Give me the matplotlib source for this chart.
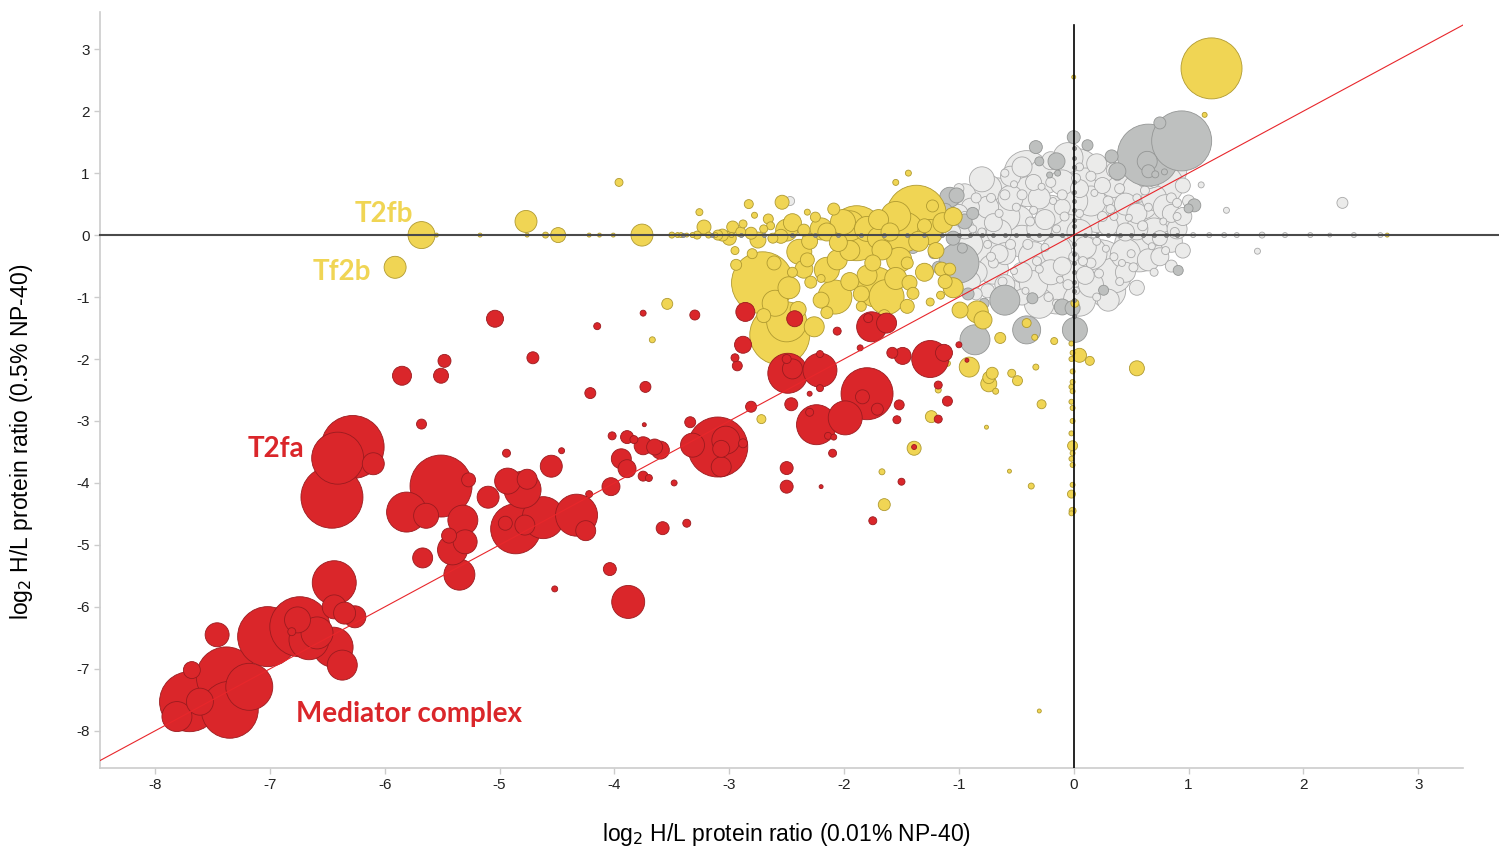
import matplotlib.pyplot as plt
import numpy as np

plt.rcParams['font.family'] = ['Liberation Sans', 'DejaVu Sans']
plt.rcParams['axes.unicode_minus'] = False

# bubbles: x, y (log2 H/L ratios) and bubble diameter (px at 100 dpi)
red_x = [-7.70, -7.35, -7.38, -7.18, -7.81, -7.61, -7.68, -7.46,
         -7.02, -6.74, -6.59, -6.76, -6.45, -6.37, -6.44, -6.44, -6.26, -6.81, -6.66, -6.35,
         -6.28, -6.41, -6.46, -6.10,
         -5.68, -5.51, -5.81, -5.64, -5.27, -5.32, -5.30, -5.41, -5.44, -5.67, -5.35, -5.10,
         -4.93, -4.76, -4.80, -4.86, -4.62, -4.33, -4.25, -4.95, -4.78, -4.55, -4.94, -4.46,
         -4.52, -4.04, -3.88,
         -5.04, -5.48, -5.85, -5.51, -4.71, -4.15, -3.75, -3.30, -4.21, -3.73,
         -3.74, -4.02, -3.89, -3.83, -3.75, -3.65, -3.60, -3.94, -3.89, -3.75, -3.70, -4.03,
         -4.22, -3.48, -3.34, -3.10, -3.32, -3.03, -3.07, -3.07, -2.88, -2.81, -3.58, -3.37,
         -2.88, -2.95, -2.93, -2.86, -2.43, -2.49, -2.21, -2.45, -2.50, -2.21, -2.21, -1.80,
         -1.84, -1.71, -2.24, -1.99, -2.30, -2.14, -2.09, -2.46, -2.30, -2.10, -2.50, -2.50,
         -2.20, -1.52, -1.54, -1.50, -1.75, -1.10, -1.18, -1.18, -1.39, -1.25, -1.13, -1.49,
         -1.58, -1.76, -1.63, -1.79, -2.06, -1.86, -1.00, -0.93]
red_y = [-7.53, -7.66, -7.13, -7.29, -7.77, -7.53, -7.02, -6.45,
         -6.48, -6.32, -6.42, -6.21, -6.65, -6.94, -5.61, -6.00, -6.16, -6.40, -6.53, -6.10,
         -3.42, -3.60, -4.23, -3.69,
         -3.05, -4.05, -4.47, -4.53, -3.95, -4.60, -4.95, -5.08, -4.85, -5.21, -5.48, -4.23,
         -3.97, -3.94, -4.11, -4.74, -4.56, -4.52, -4.77, -4.65, -4.68, -3.73, -3.52, -3.48,
         -5.71, -5.39, -5.92,
         -1.35, -2.03, -2.27, -2.27, -1.98, -1.47, -1.26, -1.29, -2.55, -2.45,
         -3.06, -3.24, -3.26, -3.30, -3.40, -3.42, -3.47, -3.61, -3.77, -3.89, -3.92, -4.06,
         -4.18, -4.00, -3.02, -3.42, -3.39, -3.31, -3.45, -3.74, -3.36, -2.77, -4.73, -4.65,
         -1.77, -1.98, -2.11, -1.24, -1.35, -2.23, -2.18, -2.16, -2.00, -1.92, -2.47, -2.56,
         -2.61, -2.81, -3.06, -2.95, -2.86, -3.24, -3.26, -2.73, -2.56, -3.52, -3.76, -4.06,
         -4.06, -2.74, -2.98, -3.98, -4.61, -2.68, -2.97, -2.42, -3.42, -2.00, -1.90, -1.95,
         -1.90, -1.48, -1.42, -1.34, -1.55, -1.82, -1.77, -2.02]
red_size = [60, 57, 60, 47, 30, 27, 17, 24,
            60, 60, 32, 26, 40, 30, 44, 24, 22, 8, 40, 22,
            63, 52, 62, 22,
            10, 62, 40, 25, 14, 30, 24, 30, 15, 20, 31, 22,
            26, 20, 37, 50, 42, 42, 20, 14, 20, 22, 8, 6,
            6, 13, 33,
            17, 13, 19, 15, 12, 7, 6, 10, 11, 11,
            4, 8, 13, 8, 18, 16, 18, 20, 18, 10, 7, 18,
            7, 6, 11, 60, 24, 28, 17, 20, 9, 11, 13, 8,
            17, 8, 10, 19, 16, 40, 34, 20, 9, 7, 7, 52,
            14, 12, 40, 34, 8, 7, 6, 13, 5, 8, 13, 13,
            4, 10, 8, 7, 8, 10, 8, 8, 5, 37, 17, 17,
            11, 30, 20, 9, 8, 6, 6, 4]

yel_x = [-5.68, -5.91, -4.77, -4.49, -4.60, -4.76, -5.17, -5.55, -3.96, -3.76, -4.22, -4.13,
         -4.01, -3.50, -3.45, -3.37, -3.22, -3.26, -3.28, -3.06, -3.54, -3.67, -2.72,
         -2.83, -2.54, -2.78, -2.64, -2.97, -2.81, -2.50, -2.39, -2.62, -2.70, -2.35, -1.89,
         -2.01, -2.09, -2.32, -2.25, -2.15, -2.06, -2.32, -2.29, -2.08, -2.71, -2.61, -2.56,
         -2.50, -2.26, -2.94, -1.37, -1.48, -1.72, -1.63, -1.80, -1.52, -1.43, -1.67, -1.40,
         -1.25, -1.16, -0.99, -0.79, -0.84, -0.91, -0.74, -1.10, -1.18, -1.55, -1.44, -1.55,
         -1.25, -1.70, -2.15, -1.95, -1.23, -1.14, -1.05, -1.15, -1.45, -2.45, -2.80, -2.20,
         -1.85,
         -0.74, -0.71, -0.54, -0.49, -0.68, -0.28, -0.76, -0.56, -0.37, -0.30, -0.33, -0.64,
         -0.17, 0.05, 0.14, -0.41, -0.34, 0.01, -1.67, -1.65, -1.39, -1.24, 0.55, 1.20,
         1.14, 0.00, 2.73, -1.08,
         -0.01, -0.02, -0.01, -0.02, -0.01, -0.01, -0.02, -0.01, -0.01, -0.02, -0.01, -0.01,
         -0.02, -0.01, -0.02, -0.01, -0.02, -0.01, -0.02,
         -3.00, -2.90, -2.75, -2.55, -2.45, -2.30, -2.20, -2.05, -1.95, -1.80, -1.70, -1.60,
         -1.35, -1.20, -1.30, -1.75, -2.35, -2.48, -2.20, -1.95, -1.55, -1.45, -1.85, -2.60,
         -2.40, -2.70, -2.15, -1.65, -1.30, -1.12, -1.05, -2.95, -3.10, -3.18, -2.88, -2.66,
         -3.42, -3.32, -3.12, -2.98]
yel_y = [0.00, -0.52, 0.22, 0.00, 0.00, 0.00, 0.00, 0.00, 0.85, 0.00, 0.00, 0.00,
         0.00, 0.00, 0.00, 0.00, 0.13, 0.37, 0.00, 0.00, -1.11, -1.69, -2.97,
         0.50, 0.53, 0.32, 0.15, 0.13, 0.03, 0.08, -0.27, -0.05, 0.10, 0.08, 0.03,
         0.21, 0.42, 0.37, 0.29, -0.56, -0.40, -0.40, -0.76, -1.00, -0.77, -0.45, -1.61,
         -1.40, -1.48, -0.48, 0.32, 0.05, -0.84, -1.00, -0.65, -0.40, -0.77, -0.24, -0.94,
         -1.08, -0.97, -1.21, -1.37, -1.24, -2.13, -2.30, -2.07, -2.50, 0.85, 1.00, 0.30,
         0.05, 0.25, 0.05, -0.25, 0.47, 0.20, 0.30, -0.55, -0.45, -0.60, -0.30, -0.70,
         -1.15,
         -2.40, -2.23, -2.23, -2.35, -2.52, -2.73, -3.10, -3.81, -4.05, -7.68, -2.13, -1.66,
         -1.71, -1.94, -2.03, -1.42, -1.65, -1.10, -3.82, -4.35, -3.44, -2.93, -2.15, 2.69,
         1.94, 2.55, 0.00, -0.55,
         -2.37, -2.45, -2.52, -2.69, -2.79, -3.00, -3.20, -3.40, -3.52, -3.61, -3.71, -4.03,
         -4.18, -4.45, -4.49, -1.90, -2.00, -2.20, -1.75,
         -0.05, 0.05, -0.08, -0.02, 0.20, -0.10, 0.10, -0.12, 0.15, 0.10, -0.05, 0.05,
         -0.10, -0.25, 0.15, -0.45, -0.55, -0.85, -1.05, -0.75, -0.70, -1.15, -0.95, -1.10,
         -1.20, -1.30, -1.25, -1.30, -0.60, -0.75, -0.85, -0.25, 0.00, 0.00, 0.18, 0.26,
         0.00, 0.00, 0.00, 0.00]
yel_size = [27, 22, 22, 15, 6, 4, 4, 4, 8, 22, 4, 4,
            4, 6, 5, 4, 14, 7, 8, 12, 11, 6, 9,
            9, 14, 6, 8, 12, 12, 22, 25, 10, 8, 12, 55,
            25, 12, 6, 10, 25, 20, 14, 12, 34, 62, 14, 60,
            40, 20, 11, 60, 40, 40, 35, 20, 25, 15, 20, 12,
            8, 8, 16, 18, 22, 20, 12, 6, 6, 6, 6, 30,
            25, 20, 18, 20, 12, 20, 18, 14, 12, 10, 10, 8,
            10,
            16, 12, 8, 10, 6, 9, 4, 4, 6, 4, 6, 11,
            7, 14, 9, 9, 6, 8, 6, 12, 14, 12, 15, 61,
            5, 4, 4, 12,
            5, 5, 5, 5, 5, 5, 5, 10, 5, 5, 5, 5,
            8, 7, 5, 5, 5, 5, 5,
            14, 10, 16, 14, 18, 16, 22, 18, 30, 25, 22, 18,
            20, 16, 14, 16, 18, 22, 16, 18, 22, 14, 16, 26,
            16, 14, 12, 12, 18, 14, 20, 8, 10, 6, 8, 10,
            5, 5, 5, 5]

dgray_x = [0.94, 0.65, 0.75, 0.00, 0.12, -0.15, 0.33, 0.64, 0.38, 0.65, 0.71, 0.79,
           1.05, 1.00, 0.91, 0.26, -0.33, -0.30, -0.14, -0.21, -1.08, -1.02, -0.60, -0.36,
           -0.10, -0.01, -0.41, 0.01, -0.86, -1.00, -1.38, -1.23, -1.30, -0.97, -1.40, -1.18,
           -0.95, -0.88, -1.20, -1.30, -1.05,
           -1.35, -1.22, -1.45, -0.92, -1.12, -1.50, -0.78]
dgray_y = [1.52, 1.29, 1.81, 1.58, 1.45, 1.19, 1.27, 1.19, 1.03, 1.03, 0.98, 1.02,
           0.48, 0.43, -0.57, -0.89, 1.42, 1.19, 1.00, 0.97, 0.61, 0.64, -1.05, -1.02,
           -1.16, -1.18, -1.53, -1.53, -1.69, -0.45, 0.30, 0.16, 0.48, -0.21, -0.20, -0.52,
           0.22, 0.35, 0.20, -0.10, -0.05,
           0.55, -0.30, 0.10, -0.95, 0.40, -0.30, -1.10]
dgray_size = [60, 62, 12, 13, 11, 17, 13, 20, 17, 13, 7, 6,
              13, 9, 10, 10, 13, 9, 6, 6, 20, 15, 30, 11,
              16, 15, 28, 25, 30, 40, 12, 10, 8, 10, 12, 12,
              15, 12, 8, 10, 14,
              12, 10, 10, 12, 14, 10, 10]

lgray_x = [0.02, -0.41, 0.23, -0.67, 0.57, 0.81, -0.24, -0.79, 0.40, -0.15, -0.05, 0.75,
           0.50, -0.50, 0.30, -0.35, 0.15, -0.80, 0.70, 0.90, 0.78,
           -0.90, -0.95, -0.85, -0.60, -0.55, -0.30, -0.20, 0.20, 0.35, 0.55, 0.65, 0.45,
           0.10, -0.10, -0.45, -0.65, -0.25, 0.30, 0.85, 0.95, -0.70, -0.35, 0.05, 0.60,
           0.25, -0.10, 0.45, 0.75, -0.45, 0.10, -0.85, 0.55, 0.85, 1.00, 0.95, -1.00,
           -1.05, -0.75,
           -0.95, -0.80, -0.70, -0.60, -0.50, -0.40, -0.30, -0.20, -0.15, 0.00, 0.05, 0.15,
           0.20, 0.30, 0.35, 0.40, 0.50, 0.60, 0.65, 0.70, 0.80, 0.85, 0.90, -0.25,
           -0.55, -0.65, -0.85, -0.75, 0.25, -0.05, 0.40, 0.15, -0.35, -0.10, 0.55, 0.35,
           -0.45, 0.70, 0.05, -0.60, -0.90, 0.45, -0.15, 0.20,
           1.11, 0.90, 1.33, 2.34, 1.60, -2.47,
           1.04, 1.18, 1.31, 1.42, 1.64, 1.84, 2.06, 2.23, 2.44, 2.67,
           -0.95, -0.85, -0.75, -0.60, -0.40, -0.25, -0.05, 0.10, 0.35, 0.55, 0.65, 0.20,
           -0.20, -0.45, -0.70, -0.55, -0.30, 0.05, 0.35, 0.15, -0.15, 0.45, 0.70, 0.85,
           0.80, 0.60, -0.90, -1.00, -0.90, -0.65, 0.00, -0.35, 0.25, -0.55, 0.40, 0.00,
           -0.10, -0.30, 0.55, 0.30, -0.75, 0.95, -1.05, 0.75, -0.45, 0.15, -0.20, 0.45,
           0.05, -0.60,
           -0.88, -0.72, -0.52, -0.38, -0.18, 0.02, 0.18, 0.32, 0.48, 0.62, 0.78, 0.88,
           0.68, 0.52, 0.28, 0.08, -0.12, -0.32, -0.52, -0.72, -0.92, -0.62, -0.42, -0.22,
           0.02, 0.22, 0.42, 0.38, -0.28, -0.08]
lgray_y = [0.97, 1.00, -0.52, 0.56, -0.19, 1.05, -0.73, -0.24, 0.45, -0.95, 0.10, 0.20,
           0.90, 0.20, -0.90, -0.35, 0.55, 0.90, 0.60, 0.10, 0.81,
           0.45, 0.10, -0.60, -0.80, 0.95, 0.60, 1.20, 1.15, 1.05, 0.35, -0.40, -0.60,
           -0.20, -0.50, -0.60, -0.30, 0.25, 0.15, 0.35, -0.25, 0.20, 0.85, 0.75, 1.10,
           0.80, 0.45, 0.05, -0.05, -1.00, -0.65, -0.95, -0.85, -0.50, 0.55, 0.80, 0.75,
           -0.35, -0.90,
           0.30, 0.05, -0.45, 0.65, 0.45, -0.15, -0.55, 0.85, 0.10, -0.35, 0.35, 0.95,
           -0.10, 0.55, -0.35, 0.75, -0.30, 0.15, 0.45, 0.85, -0.25, 0.60, 0.30, -0.20,
           -0.15, 0.35, 0.60, -0.15, 0.30, -0.80, -0.75, -0.45, 0.40, 0.65, 0.60, 0.30,
           0.65, -0.60, 1.10, 1.00, -0.30, 1.20, -1.10, -1.00,
           0.81, 0.52, 0.40, 0.52, -0.26, 0.55,
           0.00, 0.00, 0.00, 0.00, 0.00, 0.00, 0.00, 0.00, 0.00, 0.00,
           0.65, 0.25, 0.75, 0.30, 0.70, 0.95, 1.25, 0.80, 0.85, 0.75, 0.95, 0.30,
           0.40, -0.10, -0.55, -0.95, -1.10, -1.05, -0.65, -0.30, -0.25, -0.30, 0.05, -0.10,
           0.45, 0.50, -0.15, 0.35, -0.75, 0.05, -0.60, -0.80, 1.05, 0.60, 0.20, 0.55,
           0.85, 0.10, 0.10, -1.05, 0.45, 0.30, 0.05, -0.35, 1.10, -0.80, -0.60, 0.50,
           0.05, -0.30,
           0.10, 0.60, 0.82, 0.22, 0.55, 0.92, 0.68, 0.42, 0.28, 0.72, 0.22, 0.05,
           -0.18, -0.52, -0.22, -0.42, -0.72, -0.42, -0.58, -0.35, -0.48, -0.75, -0.90, -1.00,
           -0.90, -0.62, -0.45, 0.95, 0.78, 0.30]
lgray_size = [53, 45, 55, 45, 50, 40, 45, 40, 45, 40, 40, 35,
              35, 35, 35, 30, 30, 25, 25, 20, 40,
              18, 20, 22, 20, 20, 22, 18, 20, 15, 20, 22, 20,
              22, 18, 20, 18, 20, 20, 18, 15, 18, 16, 18, 15,
              16, 16, 18, 15, 16, 18, 12, 15, 12, 12, 15, 10,
              12, 14,
              10, 8, 10, 10, 8, 10, 8, 10, 8, 10, 8, 10,
              8, 10, 8, 10, 8, 10, 8, 10, 8, 10, 8, 8,
              10, 8, 10, 8, 10, 10, 8, 10, 8, 10, 8, 8,
              10, 8, 8, 8, 8, 8, 8, 8,
              6, 9, 6, 11, 6, 9,
              5, 5, 5, 5, 6, 5, 5, 4, 5, 5,
              22, 25, 28, 30, 30, 35, 30, 35, 30, 28, 25, 32,
              30, 32, 30, 28, 30, 32, 35, 32, 30, 30, 28, 22,
              25, 30, 25, 18, 20, 25, 30, 28, 25, 25, 28, 28,
              25, 25, 22, 22, 22, 18, 15, 18, 20, 25, 25, 22,
              25, 22,
              8, 9, 7, 9, 7, 9, 7, 9, 7, 9, 7, 9,
              7, 9, 7, 9, 7, 9, 7, 9, 7, 9, 7, 9,
              7, 9, 7, 9, 7, 9]

# proteins sitting on the zero lines (ratio = 0 in one condition)
zero_y_x = [-3.40, -3.15, -2.90, -2.70, -2.45, -2.25, -2.05, -1.85, -1.65, -1.45, -1.30, -1.15,
            -1.00, -0.90, -0.80, -0.70, -0.60, -0.50, -0.40, -0.30, -0.20, -0.10, 0.10, 0.20,
            0.30, 0.40, 0.50, 0.60, 0.70, 0.80, 0.90]
zero_x_y = [1.40, 1.25, 1.10, 0.85, 0.70, 0.55, 0.40, 0.25, 0.15, -0.15, -0.30, -0.45,
            -0.60, -0.75, -0.90, -1.05, -1.30]

px2pt = 72 / 100


def bubbles(ax, xs, ys, ds, face, edge, z):
    xs, ys, ds = np.array(xs), np.array(ys), np.array(ds, dtype=float)
    order = np.argsort(-ds, kind='stable')
    ax.scatter(xs[order], ys[order], s=(ds[order] * px2pt) ** 2, c=face,
               edgecolors=edge, linewidths=0.6, zorder=z)


fig = plt.figure(figsize=(14.99, 8.52), dpi=100)
ax = fig.add_axes([100 / 1499, 1 - 768 / 852, 1363 / 1499, 756 / 852])
ax.set_xlim(-8.48, 3.39)
ax.set_ylim(-8.6, 3.6)

bubbles(ax, lgray_x, lgray_y, lgray_size, '#EBEBEA', '#A9A9A9', 2)
bubbles(ax, dgray_x, dgray_y, dgray_size, '#BEC0BF', '#949695', 3)
bubbles(ax, yel_x, yel_y, yel_size, '#F0D554', '#B09A30', 4)
bubbles(ax, red_x, red_y, red_size, '#DA262A', '#9B1B1F', 5)
ax.scatter(zero_y_x, np.zeros(len(zero_y_x)), s=(4 * px2pt) ** 2, c='#9a9a9a',
           edgecolors='#777777', linewidths=0.5, zorder=6)
ax.scatter(np.zeros(len(zero_x_y)), zero_x_y, s=(4 * px2pt) ** 2, c='#9a9a9a',
           edgecolors='#777777', linewidths=0.5, zorder=6)

# reference lines
ax.plot([-8.48, 3.70], [0, 0], color='#4a4a4a', lw=1.5, zorder=7, clip_on=False)
ax.plot([0, 0], [-8.6, 3.39], color='black', lw=1.2, zorder=7)
ax.plot([-8.5, 3.42], [-8.5, 3.42], color='#E8262B', lw=0.8, zorder=8)

for s in ['top', 'right']:
    ax.spines[s].set_visible(False)
for s in ['left', 'bottom']:
    ax.spines[s].set_color('#cccccc')
    ax.spines[s].set_linewidth(1.2)
ax.set_xticks(range(-8, 4))
ax.set_yticks(range(-8, 4))
ax.tick_params(length=4, width=1, color='#cccccc', labelsize=11, labelcolor='#222222')

fig.text(786 / 1499, 1 - 835 / 852, r'log$_2$ H/L protein ratio (0.01% NP-40)',
         ha='center', va='center', fontsize=16.5)
fig.text(22 / 1499, 1 - 442 / 852, r'log$_2$ H/L protein ratio (0.5% NP-40)',
         ha='center', va='center', rotation=90, fontsize=16.5)

lab = dict(fontfamily=['Lato', 'DejaVu Sans'], fontweight='bold', fontsize=20,
           ha='center', va='center', zorder=10)
ax.text(-6.01, 0.34, 'T2fb', color='#F0D554', **lab)
ax.text(-6.37, -0.60, 'Tf2b', color='#F0D554', **lab)
ax.text(-6.95, -3.45, 'T2fa', color='#DA262A', **lab)
ax.text(-5.79, -7.73, 'Mediator complex', color='#DA262A', **lab)

fig.savefig('out.png', dpi=100)
